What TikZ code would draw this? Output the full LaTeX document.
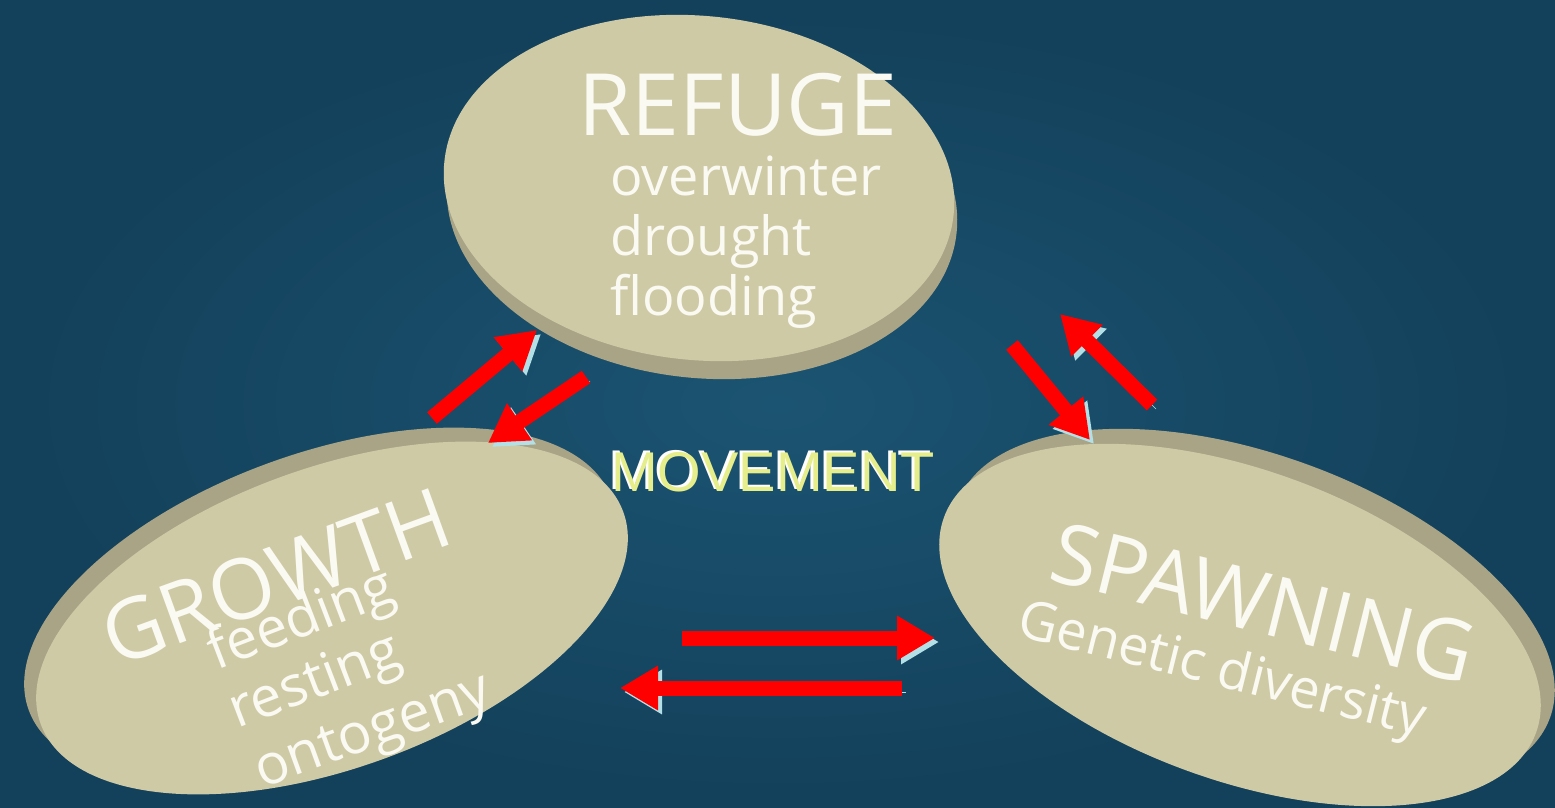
\documentclass[tikz,border=0pt]{standalone}
\usepackage{fontspec}
\setmainfont{Open Sans}
\newfontfamily\movefont{Liberation Sans}
\usetikzlibrary{positioning}
\usetikzlibrary{arrows.meta,shapes.geometric}

\definecolor{sea}{HTML}{13405A}
\definecolor{seamid}{HTML}{1B5472}
\definecolor{disc}{HTML}{CFCAA6}
\definecolor{rim}{HTML}{A9A486}
\definecolor{glow}{HTML}{B3E0E6}
\definecolor{label}{HTML}{FAFAF2}
\definecolor{movey}{HTML}{E6EE8C}

\begin{document}
\begin{tikzpicture}[x=1pt,y=-1pt,
		disc/.style={ellipse,fill=disc,inner sep=0pt},
		rim/.style={ellipse,fill=rim,inner sep=0pt},
		title/.style={text=label,font=\fontsize{86}{86}\selectfont},
		notes/.style={text=label,font=\fontsize{54}{60}\selectfont},
		move/.style={-{Triangle[width=42pt,length=38pt]},line width=15pt,draw=red,
			preaction={draw=glow,transform canvas={shift={(4pt,-4pt)}}}}]
		\useasboundingbox (0,0) rectangle (1555,808);
		\shade[inner color=seamid,outer color=sea] (0,0) rectangle (1555,808);

		% discs: darker side wall first, then the top face
		\node[rim,minimum width=512pt,minimum height=344pt,rotate=-6] (refuge_w) at (702,206) {};
		\node[disc,minimum width=512pt,minimum height=344pt,rotate=-6] (refuge) at (699,188) {};
		\node[rim,minimum width=620pt,minimum height=300pt,rotate=20] (growth_w) at (320,604) {};
		\node[disc,minimum width=620pt,minimum height=300pt,rotate=20] (growth) at (332,618) {};
		\node[rim,minimum width=630pt,minimum height=310pt,rotate=-20] (spawning_w) at (1254,610) {};
		\node[disc,minimum width=630pt,minimum height=310pt,rotate=-20] (spawning) at (1240,625) {};

		\node[title,anchor=base] (refuge_t) at (738,135) {REFUGE};
		\node[notes,align=left,anchor=north west,inner sep=0pt] (refuge_n) at (610,156)
			{overwinter\\drought\\flooding};
		\node[title,font=\fontsize{84}{84}\selectfont,rotate=20,anchor=base] (growth_t) at (286,605) {GROWTH};
		\node[notes,font=\fontsize{56}{56}\selectfont,rotate=21] (feeding) at (302,622) {feeding};
		\node[notes,font=\fontsize{56}{56}\selectfont,rotate=21] (resting) at (316,684) {resting};
		\node[notes,font=\fontsize{56}{56}\selectfont,rotate=20] (ontogeny) at (374,735) {ontogeny};
		\node[title,font=\fontsize{84}{84}\selectfont,rotate=-14,anchor=base] (spawning_t) at (1256,632) {SPAWNING};
		\node[notes,rotate=-14,anchor=base] (spawning_n) at (1218,686)
			{Genetic diversity};

		\node[text=white,font=\movefont\fontsize{56}{56}\selectfont] (movement_s) at (770,470) {MOVEMENT};
		\node[text=movey,font=\movefont\fontsize{56}{56}\selectfont] (movement) at (773,472) {MOVEMENT};

		% arrow ends
		\coordinate (gr_0) at (432,418); \coordinate (gr_1) at (537,330);
		\coordinate (rg_0) at (586,377); \coordinate (rg_1) at (488,443);
		\coordinate (rs_0) at (1012,345); \coordinate (rs_1) at (1090,440);
		\coordinate (sr_0) at (1152,405); \coordinate (sr_1) at (1060,314);
		\coordinate (gs_0) at (682,638); \coordinate (gs_1) at (935,638);
		\coordinate (sg_0) at (902,688); \coordinate (sg_1) at (620,688);

		\path
		(gr_0) edge[move] (gr_1)
		(rg_0) edge[move] (rg_1)
		(rs_0) edge[move] (rs_1)
		(sr_0) edge[move] (sr_1)
		(gs_0) edge[move] (gs_1)
		(sg_0) edge[move] (sg_1);
	\end{tikzpicture}
\end{document}
